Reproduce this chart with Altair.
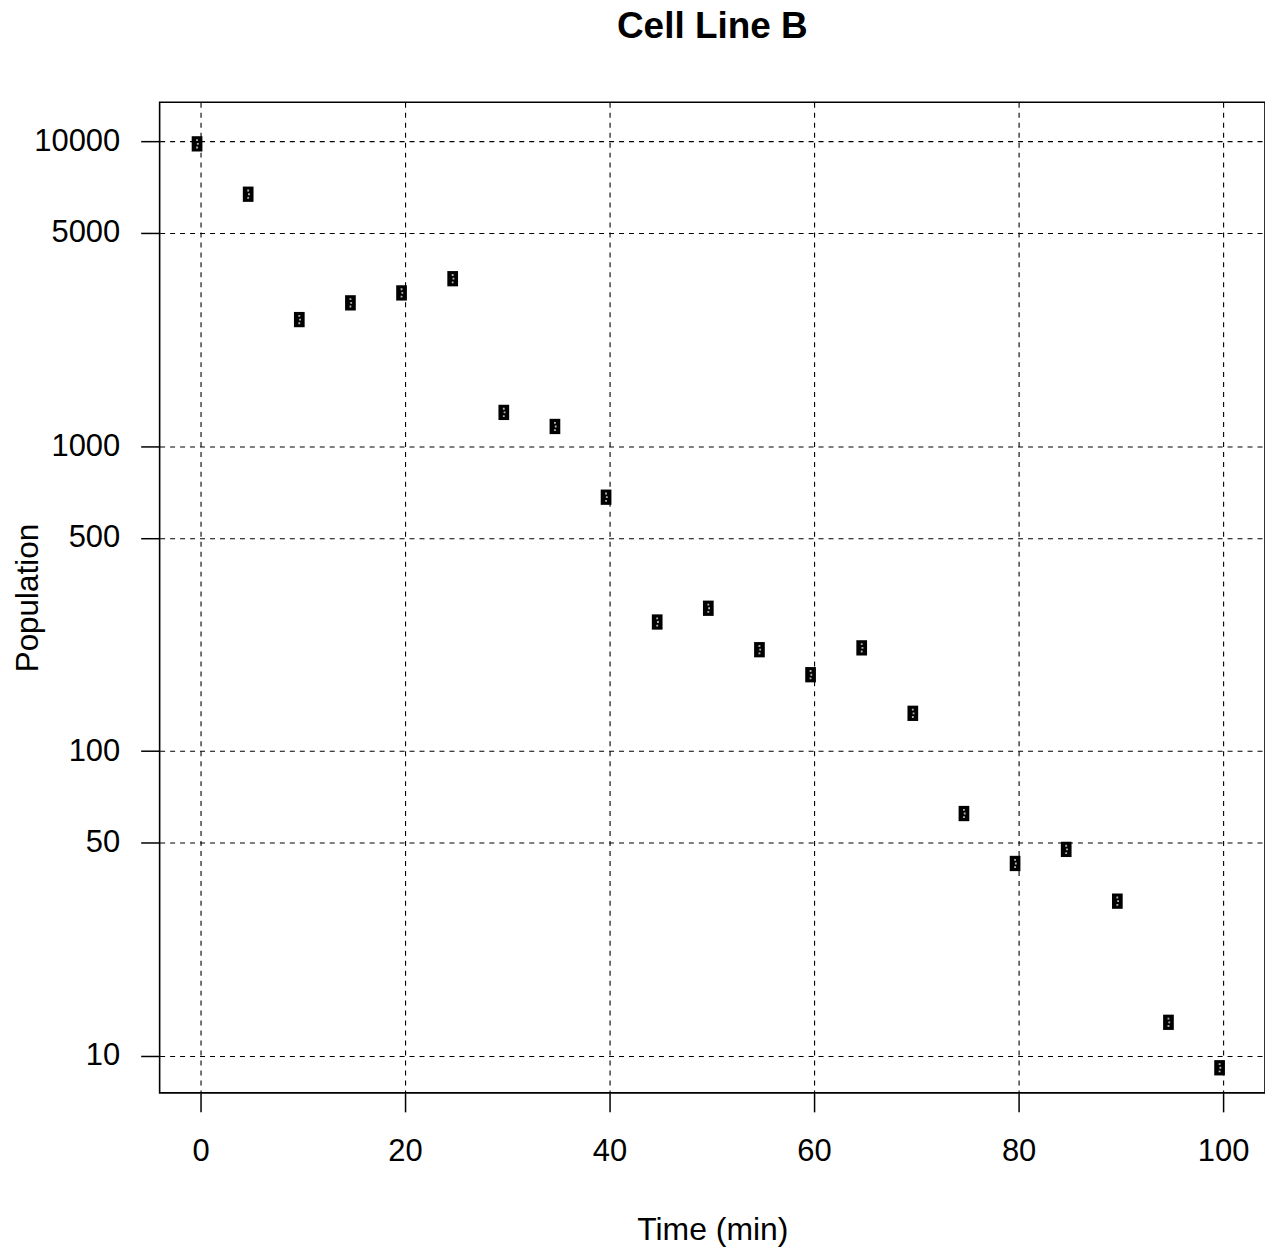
import altair as alt
import pandas as pd

time_min = [0, 5, 10, 15, 20, 25, 30, 35, 40, 45, 50, 55, 60, 65, 70, 75, 80, 85, 90, 95, 100]
population = [9800, 6700, 2600, 2950, 3180, 3540, 1290, 1160, 680, 265, 294, 215, 178, 218,
              133, 62.4, 42.8, 47.6, 32.2, 12.9, 9.15]
x_ticks = [0, 20, 40, 60, 80, 100]
y_ticks = [10, 50, 100, 500, 1000, 5000, 10000]

df = pd.DataFrame({"time": time_min, "pop": population})

FONT = "Liberation Sans"

x_enc = alt.X("time:Q", scale=alt.Scale(domain=[-4.0, 104.1], nice=False, zero=False),
              axis=alt.Axis(values=x_ticks, title="Time (min)", format="d",
                            grid=True, gridDash=[5, 5], gridColor="black", gridWidth=1.1, gridOpacity=1,
                            domain=False, ticks=True, tickSize=19, tickColor="black", tickWidth=1.5,
                            labelFontSize=31, labelFont=FONT, labelColor="black", labelPadding=25,
                            titleFontSize=32, titleFont=FONT, titleFontWeight="normal", titleColor="black",
                            titleBaseline="alphabetic", titleY=147, titleAnchor="middle"))
y_enc = alt.Y("pop:Q", scale=alt.Scale(type="log", domain=[7.57, 13416], nice=False, zero=False),
              axis=alt.Axis(values=y_ticks, title="Population", format="d",
                            grid=True, gridDash=[5, 5], gridColor="black", gridWidth=1.1, gridOpacity=1,
                            domain=False, ticks=True, tickSize=19, tickColor="black", tickWidth=1.5,
                            labelFontSize=31, labelFont=FONT, labelColor="black", labelPadding=21,
                            labelBaseline="middle",
                            titleFontSize=31.5, titleFont=FONT, titleFontWeight="normal", titleColor="black",
                            titleBaseline="alphabetic", titleX=-122, titleAngle=-90, titleAnchor="middle"))

rect_path = "M-0.7,-1H0.7V1H-0.7Z"
dots_path = ("M-0.12,-0.6H0.12V-0.36H-0.12Z"
             "M-0.02,-0.12H0.22V0.12H-0.02Z"
             "M-0.12,0.36H0.12V0.6H-0.12Z")

base = alt.Chart(df)
boxes = base.mark_point(shape=rect_path, size=235, filled=True, color="black", opacity=1,
                        strokeWidth=0, xOffset=-3.5).encode(x=x_enc, y=y_enc)
dots = base.mark_point(shape=dots_path, size=235, filled=True, color="white", opacity=0.7,
                       strokeWidth=0, xOffset=-3.5).encode(x="time:Q", y="pop:Q")

chart = alt.layer(boxes, dots).properties(
    width=1108, height=993,
    title=alt.TitleParams("Cell Line B", fontSize=37, font=FONT, fontWeight="bold", color="black",
                          anchor="middle", baseline="alphabetic", offset=27),
    autosize=alt.AutoSizeParams(type="none"),
    padding={"left": 152, "top": 93, "right": 0, "bottom": 155},
).configure(background="white").configure_view(stroke="black", strokeWidth=1.6)

chart.save("out.html", embed_options={"renderer": "svg", "actions": False})
